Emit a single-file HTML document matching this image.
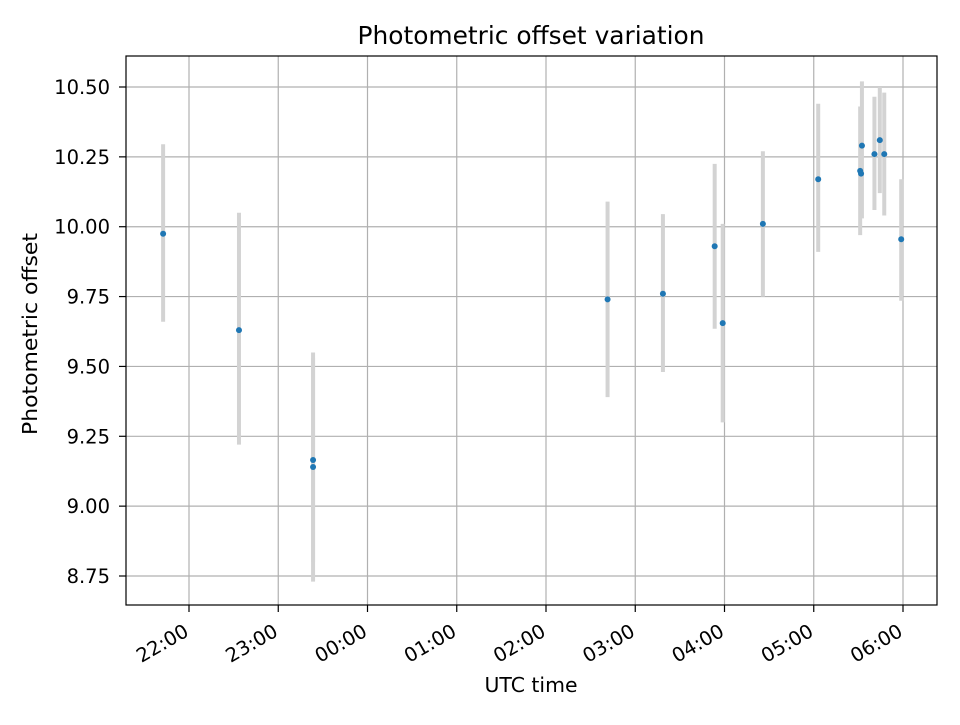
<!DOCTYPE html>
<html><head><meta charset="utf-8"><style>
body{margin:0;background:#fff;font-family:"Liberation Sans","DejaVu Sans",sans-serif;}
svg text{font-family:"DejaVu Sans","Liberation Sans",sans-serif;fill:#000;}
</style></head><body>
<svg id="chart" width="960" height="720" viewBox="0 0 960 720" xmlns="http://www.w3.org/2000/svg">
<rect width="960" height="720" fill="#fff"/>
<text x="531" y="44" font-size="24.5" text-anchor="middle" textLength="347" lengthAdjust="spacingAndGlyphs">Photometric offset variation</text>
<g id="grid"></g><g id="bars"></g><g id="pts"></g><g id="axes"></g>
<rect x="126" y="56" width="811" height="549" fill="none" stroke="#000" stroke-width="1.2"/>
<text x="531" y="692" font-size="20" text-anchor="middle" textLength="93" lengthAdjust="spacingAndGlyphs">UTC time</text>
<text transform="translate(37,334) rotate(-90)" font-size="20.5" text-anchor="middle" textLength="202" lengthAdjust="spacingAndGlyphs">Photometric offset</text>
</svg>
<script>
// hours relative to 22:00
const times=[-0.29,0.56,1.39,1.39,4.69,5.31,5.89,5.98,6.43,7.05,7.52,7.53,7.54,7.68,7.74,7.79,7.98];
const values=[9.975,9.63,9.165,9.14,9.74,9.76,9.93,9.655,10.01,10.17,10.20,10.19,10.29,10.26,10.31,10.26,9.955];
const lows=[9.66,9.22,8.80,8.73,9.39,9.48,9.635,9.30,9.75,9.91,9.97,10.06,10.03,10.06,10.12,10.04,9.735];
const highs=[10.295,10.05,9.53,9.55,10.09,10.045,10.225,10.01,10.27,10.44,10.43,10.41,10.52,10.465,10.50,10.48,10.17];
const xTicks=["22:00","23:00","00:00","01:00","02:00","03:00","04:00","05:00","06:00"];
const yTicks=[8.75,9.00,9.25,9.50,9.75,10.00,10.25,10.50];
const X=h=>189+h*89.25, Y=v=>87+(10.5-v)*279.43;
const NS="http://www.w3.org/2000/svg";
function mk(t,a,p){const e=document.createElementNS(NS,t);for(const k in a)e.setAttribute(k,a[k]);p.appendChild(e);return e;}
const grid=document.getElementById('grid'),axes=document.getElementById('axes');
xTicks.forEach((l,i)=>{const x=X(i);
 const g=mk('line',{x1:x,x2:x,y1:56,y2:605,stroke:'#b0b0b0','stroke-width':1.2},grid);
 
 
 mk('line',{x1:x,x2:x,y1:605,y2:612,stroke:'#000','stroke-width':1.2},axes);
 const t=mk('text',{x:x+1,y:635,'font-size':19.5,'text-anchor':'end',transform:`rotate(-30 ${x+1} 635)`},axes);
 t.textContent=l;
 
 
});
yTicks.forEach(v=>{const y=Y(v);
 const g=mk('line',{x1:126,x2:937,y1:y,y2:y,stroke:'#b0b0b0','stroke-width':1.2},grid);
 
 
 mk('line',{x1:119,x2:126,y1:y,y2:y,stroke:'#000','stroke-width':1.2},axes);
 const t=mk('text',{x:110,y:y+7,'font-size':19.5,'text-anchor':'end'},axes);
 t.textContent=v.toFixed(2);
 
 
});
const bars=document.getElementById('bars'),pts=document.getElementById('pts');
times.forEach((h,i)=>{
 const b=mk('line',{x1:X(h),x2:X(h),y1:Y(lows[i]),y2:Y(highs[i]),stroke:'#d3d3d3','stroke-width':4},bars);
 
 
 const c=mk('circle',{cx:X(h),cy:Y(values[i]),r:3,fill:'#1f77b4'},pts);
 
 
});
</script>
</body></html>
